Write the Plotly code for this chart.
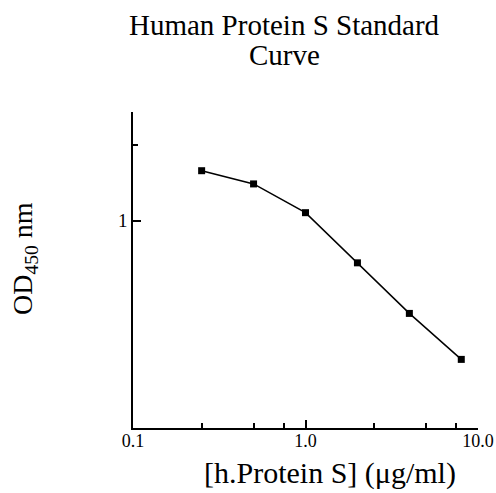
import plotly.graph_objects as go

# Data
conc = [0.25, 0.5, 1.0, 2.0, 4.0, 8.0]          # [h.Protein S] (µg/ml)
od450 = [1.58, 1.40, 1.076, 0.68, 0.428, 0.281]  # OD450 nm

x_tick_vals = [0.1, 1.0, 10.0]
x_tick_text = ["0.1", "1.0", "10.0"]
x_minor_vals = [0.25, 0.5, 0.75, 2.5, 5.0, 7.5]
y_tick_vals = [1]
y_tick_text = ["1"]
y_minor_vals = [2]

W, H = 496, 493
L, R, T, B = 133, 18, 112, 65
pw, ph = W - L - R, H - T - B
FONT = "Liberation Serif, Times New Roman, serif"


def px(xf):
    return (xf - L) / pw


def py(yf):
    return (H - B - yf) / ph


fig = go.Figure()
fig.add_trace(go.Scatter(
    x=conc, y=od450, mode="lines+markers",
    line=dict(color="black", width=1.5),
    marker=dict(symbol="square", size=7, color="black"),
    showlegend=False, cliponaxis=False,
))

fig.update_layout(
    width=W, height=H,
    margin=dict(l=L, r=R, t=T, b=B, pad=0, autoexpand=False),
    paper_bgcolor="white", plot_bgcolor="white",
    font=dict(family=FONT, color="black", size=18),
    xaxis=dict(
        type="log", range=[-1, 1], automargin=False,
        tickvals=x_tick_vals, ticktext=x_tick_text,
        ticks="inside", ticklen=8, tickwidth=1.5, tickcolor="black",
        showline=True, linecolor="black", linewidth=1.5,
        showgrid=False, zeroline=False,
        minor=dict(tickvals=x_minor_vals, ticks="inside", ticklen=5,
                   tickwidth=1.5, tickcolor="black", showgrid=False),
        tickfont=dict(size=18, family=FONT),
        ticklabelstandoff=-4,
    ),
    yaxis=dict(
        type="log", range=[-0.824, 0.432], automargin=False,
        tickvals=y_tick_vals, ticktext=y_tick_text,
        ticks="inside", ticklen=8, tickwidth=1.5, tickcolor="black",
        showline=True, linecolor="black", linewidth=1.5,
        showgrid=False, zeroline=False,
        minor=dict(tickvals=y_minor_vals, ticks="inside", ticklen=5,
                   tickwidth=1.5, tickcolor="black", showgrid=False),
        tickfont=dict(size=19, family=FONT),
    ),
)

TFONT = dict(size=29, family=FONT, color="black")
fig.add_annotation(text="Human Protein S Standard", xref="paper", yref="paper",
                   x=px(284), y=py(24.5), xanchor="center", yanchor="middle",
                   showarrow=False, font=TFONT)
fig.add_annotation(text="Curve", xref="paper", yref="paper",
                   x=px(284), y=py(55.5), xanchor="center", yanchor="middle",
                   showarrow=False, font=TFONT)
fig.add_annotation(
    text="[h.Protein S] (\u03bcg/ml)",
    xref="paper", yref="paper",
    x=px(330), y=py(473),
    xanchor="center", yanchor="middle", showarrow=False,
    font=dict(size=30, family=FONT, color="black"),
)
fig.add_annotation(
    text="OD<sub>450</sub> nm",
    xref="paper", yref="paper",
    x=px(24), y=py(258),
    xanchor="center", yanchor="middle", showarrow=False, textangle=-90,
    font=dict(size=28, family=FONT, color="black"),
)

fig.write_html(
    "out.html",
    config={"displayModeBar": False},
    post_script="document.body.style.margin='0';"
                "document.body.style.overflow='hidden';",
)
